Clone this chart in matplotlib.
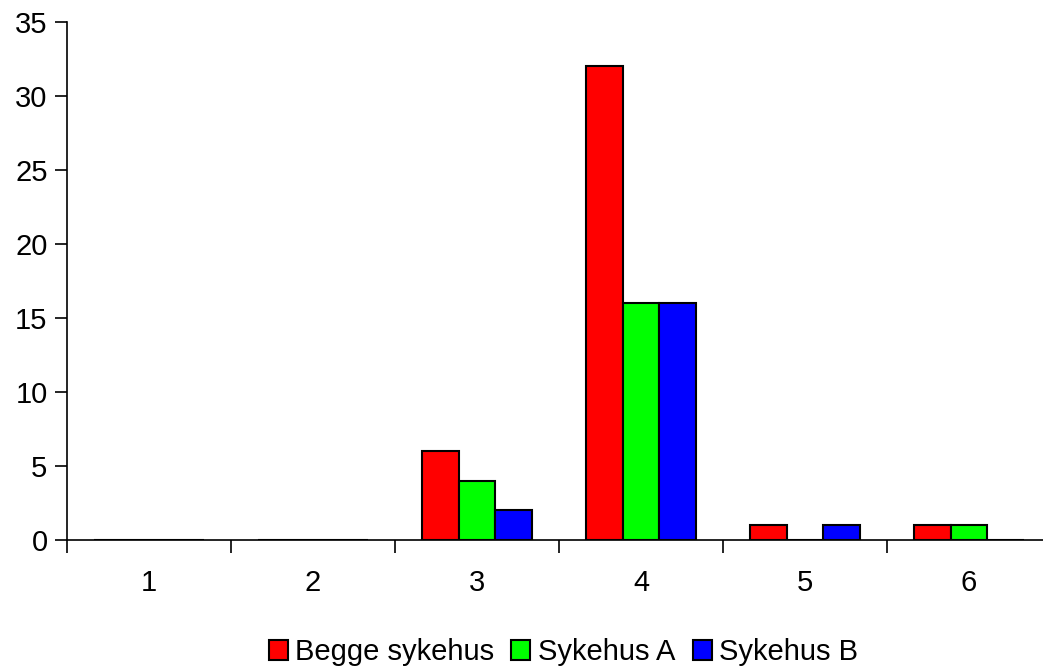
import matplotlib.pyplot as plt
import numpy as np

plt.rcParams['font.family'] = ['Liberation Sans', 'DejaVu Sans']

categories = ["1", "2", "3", "4", "5", "6"]
begge = [0, 0, 6, 32, 1, 1]
sykehus_a = [0, 0, 4, 16, 0, 1]
sykehus_b = [0, 0, 2, 16, 1, 0]

series = [("Begge sykehus", begge, "#ff0000"),
          ("Sykehus A", sykehus_a, "#00ff00"),
          ("Sykehus B", sykehus_b, "#0000ff")]

fig = plt.figure(figsize=(10.43, 6.71), dpi=100)
ax = fig.add_axes([0.0642, 0.1952, 0.9435, 0.772])

x = np.arange(len(categories))
w = 0.225
for i, (name, vals, col) in enumerate(series):
    ax.bar(x + (i - 1) * w, vals, w, color=col, edgecolor="black",
           linewidth=1.5, label=name)

ax.set_xlim(-0.5, len(categories) - 0.5)
ax.set_ylim(0, 35)
ax.set_yticks(range(0, 36, 5))
ax.tick_params(axis="y", labelsize=21, length=9, width=1.2, pad=5)

# kategori-etiketter midt i, tick-streker mellom kategoriene
ax.set_xticks(x)
ax.set_xticklabels(categories, fontsize=21)
ax.tick_params(axis="x", length=0, pad=21)
ax.set_xticks(np.arange(-0.5, len(categories)), minor=True)
ax.tick_params(axis="x", which="minor", length=9, width=1.2)

for s in ["top", "right"]:
    ax.spines[s].set_visible(False)
ax.spines["left"].set_linewidth(1.2)
ax.spines["bottom"].set_linewidth(1.2)

fig.legend(loc="center", bbox_to_anchor=(0.54, 0.028), ncol=3, frameon=False,
           fontsize=21, handlelength=0.65, handleheight=0.65,
           handletextpad=0.25, columnspacing=0.6)

fig.savefig("out.png", dpi=100)
